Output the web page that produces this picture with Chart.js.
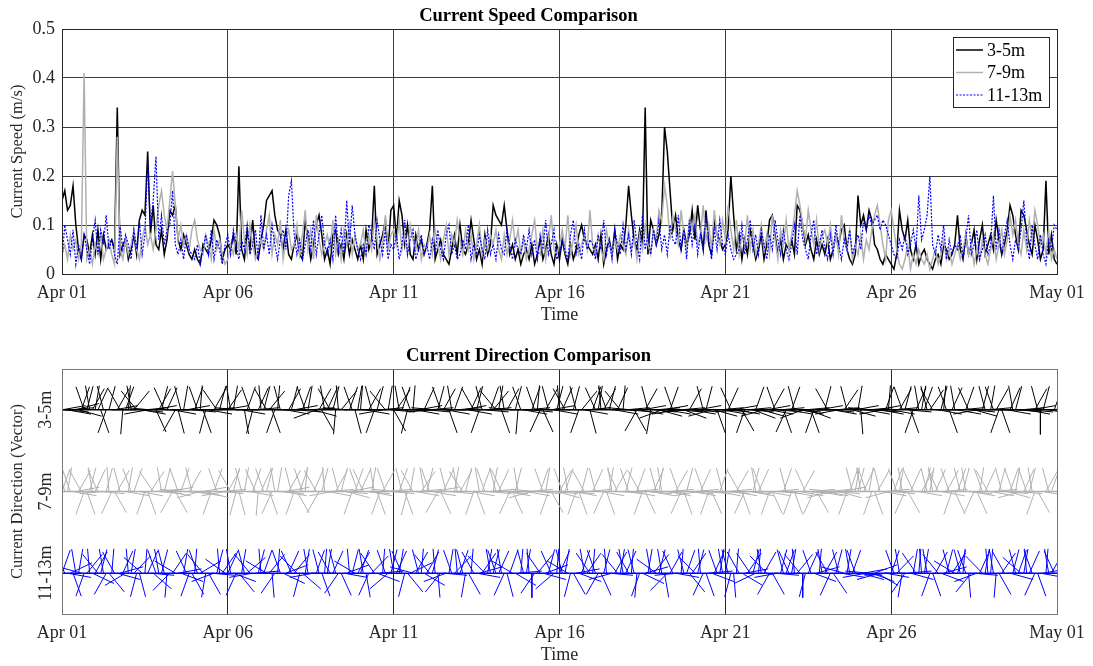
<!DOCTYPE html>
<html>
<head>
<meta charset="utf-8">
<title>Current Speed and Direction</title>
<script src="https://cdn.jsdelivr.net/npm/chart.js@4.4.1/dist/chart.umd.min.js"></script>
<style>
  html, body { margin: 0; padding: 0; background: #fff; }
  body { width: 1093px; height: 666px; position: relative; overflow: hidden; }
  .panel { position: absolute; left: 0; width: 1093px; height: 326px; }
  #speed-panel { top: 0; }
  #dir-panel { top: 340px; }
</style>
</head>
<body>
<div class="panel" id="speed-panel"><canvas id="speedChart"></canvas></div>
<div class="panel" id="dir-panel"><canvas id="dirChart"></canvas></div>
<script>
// ===== DADOS (a cada 2 h desde Apr 01 00:00) =====
const depthLabels = ['3-5m', '7-9m', '11-13m'];
const dayTicks = ['Apr 01', 'Apr 06', 'Apr 11', 'Apr 16', 'Apr 21', 'Apr 26', 'May 01'];

// velocidade em cm/s
const speed35 = [
  15,17,13,14,18,10,5,3,8,7,4,8,
  4,9,3,8,5,6,7,5,34,4,6,7,
  3,5,8,4,11,13,12,25,8,14,6,5,
  9,4,7,13,12,14,7,5,8,6,4,3,
  5,3,2,6,5,4,7,11,10,8,3,5,
  6,5,8,4,22,5,3,9,5,11,4,3,
  7,10,15,16,17,12,9,8,5,9,4,3,
  6,8,4,3,11,7,3,6,10,12,8,3,
  5,2,8,9,4,6,3,8,4,7,5,3,
  6,3,9,5,7,18,4,6,8,11,5,13,
  14,7,15,12,6,10,4,3,8,5,7,4,
  6,9,18,3,5,7,4,3,2,5,8,4,
  10,5,4,6,11,7,3,5,2,8,4,6,
  14,12,11,10,14,9,4,6,3,5,2,4,
  5,3,6,2,4,7,3,5,8,4,2,6,
  3,7,4,2,6,3,5,8,10,7,6,5,
  4,6,3,8,2,5,7,4,9,3,6,5,
  10,18,12,7,5,9,6,34,4,11,9,6,
  8,12,30,25,17,9,12,7,5,9,6,8,
  13,7,14,9,5,13,6,4,11,8,7,5,
  6,9,20,12,5,8,3,7,4,9,6,3,
  5,8,3,6,11,12,8,4,7,3,6,5,
  7,4,14,13,10,6,8,5,3,7,4,6,
  4,7,3,5,8,6,9,10,5,3,2,4,
  16,10,12,9,13,11,6,5,3,2,4,3,
  2,1,4,13,9,7,11,5,3,6,2,4,
  5,3,2,1,3,4,2,6,5,3,4,6,
  12,5,3,8,4,6,9,3,7,10,4,6,
  8,5,11,7,4,6,9,14,12,8,5,13,
  12,9,6,4,10,7,3,5,19,4,8,3,
  2
];
const speed79 = [
  4,6,3,8,5,7,3,6,41,3,5,2,
  6,4,8,3,5,7,4,2,28,5,3,7,
  4,6,9,5,3,7,10,6,8,5,9,14,
  17,12,9,15,21,14,7,10,6,8,5,9,
  11,7,5,4,8,6,3,9,5,7,4,2,
  3,6,4,8,5,13,7,4,10,6,3,5,
  7,5,9,12,4,8,6,11,3,7,9,5,
  6,10,4,8,13,5,9,3,12,7,4,6,
  8,5,11,4,7,3,9,6,10,4,8,5,
  6,9,4,8,5,11,7,3,6,12,5,8,
  9,6,11,5,8,4,10,7,5,9,3,6,
  5,8,4,9,6,3,7,10,4,8,6,11,
  7,4,9,5,8,3,6,10,4,7,5,8,
  6,9,5,3,8,4,7,11,6,9,4,7,
  3,5,8,11,5,4,9,3,7,12,5,4,
  6,9,5,12,4,7,10,4,6,8,5,13,
  6,4,8,5,3,9,6,4,7,5,8,6,
  4,9,5,7,3,8,5,10,6,4,9,7,
  13,11,18,14,7,12,9,6,13,8,5,11,
  9,12,6,8,14,7,10,5,13,8,6,11,
  7,14,9,5,11,4,8,6,12,5,9,4,
  6,10,5,8,4,12,7,3,9,6,11,5,
  8,12,17,14,10,7,13,9,6,11,5,8,
  9,6,10,5,8,4,12,7,5,9,3,6,
  4,8,3,7,5,9,12,14,10,6,3,11,
  13,9,5,2,1,3,6,1,4,2,5,3,
  2,4,1,3,5,2,4,7,3,5,2,4,
  6,3,5,8,4,6,2,5,3,7,4,2,
  5,8,3,6,9,4,7,12,8,11,6,4,
  9,5,11,7,13,10,6,8,4,9,3,5,
  3
];
const speed1113 = [
  3,10,7,4,9,2,6,3,8,5,2,7,
  11,4,9,6,12,5,7,4,2,10,5,8,
  6,3,9,5,11,4,8,23,10,15,24,7,
  12,6,9,10,17,6,4,7,3,8,5,4,
  3,6,2,5,8,4,9,3,7,5,2,6,
  8,4,9,6,3,7,5,10,4,6,9,3,
  12,5,8,4,10,6,3,7,9,5,16,19,
  8,4,7,3,6,9,5,11,4,8,12,6,
  4,7,3,12,5,9,4,15,6,14,8,5,
  3,6,4,10,8,5,11,7,4,9,3,6,
  5,8,3,6,11,4,7,9,3,5,8,4,
  6,3,7,4,9,5,3,8,10,4,6,3,
  4,7,5,10,3,6,4,8,5,3,9,4,
  6,3,8,5,4,9,6,3,7,5,4,8,
  5,9,4,7,3,8,5,11,4,6,9,3,
  4,7,5,3,8,11,4,6,3,9,5,7,
  6,3,8,5,11,4,7,3,9,6,4,10,
  5,8,4,11,6,3,12,5,8,4,9,6,
  11,5,8,4,10,7,6,12,5,9,3,11,
  6,10,4,8,5,12,7,3,9,5,11,6,
  4,8,5,3,4,5,10,4,7,11,5,8,
  4,9,6,3,8,5,11,7,4,9,5,3,
  6,10,4,12,7,5,3,8,11,4,6,9,
  5,3,8,4,10,6,3,7,5,9,4,6,
  8,5,11,9,12,10,11,12,9,11,10,8,
  6,4,3,7,5,8,4,6,9,5,16,7,
  9,12,20,6,4,8,5,10,3,7,4,6,
  5,8,3,7,12,4,6,9,3,5,8,4,
  6,16,5,9,4,8,11,6,3,7,5,9,
  15,7,3,10,6,3,8,4,2,7,5,10,
  9
];

// direção (graus a partir do norte)
const dir35 = [
  80,95,100,85,270,75,105,20,340,15,350,30,
  10,25,160,345,200,15,90,80,30,330,185,20,
  5,350,40,320,95,100,85,260,275,80,155,30,
  15,335,25,90,100,210,165,345,10,80,270,95,
  20,340,5,160,195,100,85,30,325,15,270,80,
  35,350,10,90,275,100,170,20,340,195,85,25,
  355,15,330,40,160,200,5,345,90,100,30,15,
  80,95,270,20,340,10,85,105,250,30,150,350,
  25,330,15,185,355,40,90,275,20,340,165,10,
  5,90,100,30,345,200,15,85,260,320,10,95,
  150,35,350,20,90,195,340,5,100,80,270,25,
  95,85,265,275,15,340,30,100,160,350,20,85,
  90,80,270,100,25,330,15,200,345,95,85,20,
  40,320,10,160,350,30,90,275,15,185,340,100,
  85,95,20,340,5,205,155,30,345,80,100,15,
  355,25,330,90,270,15,345,200,40,100,85,165,
  20,335,10,355,30,340,15,90,100,25,320,5,
  85,95,275,150,210,100,80,30,345,190,95,85,
  105,250,80,100,20,340,260,95,85,110,265,30,
  100,95,80,270,345,15,90,255,105,160,85,100,
  95,25,335,80,100,265,150,200,85,95,110,20,
  90,105,255,80,100,30,340,95,85,160,205,100,
  20,345,95,100,250,85,110,160,200,90,80,270,
  15,330,95,100,85,260,270,35,345,90,105,80,
  10,175,90,100,85,275,95,80,100,260,20,5,
  100,85,270,30,340,15,95,160,200,25,350,10,
  20,345,35,330,90,100,15,5,340,160,25,350,
  100,85,270,20,335,95,105,260,90,15,345,85,
  10,340,30,200,160,90,100,25,350,15,95,85,
  270,100,95,80,30,345,180,15,90,100,85,20,
  95
];
const dir79 = [
  20,345,10,340,100,80,30,330,200,160,15,350,
  25,335,95,265,15,355,205,150,30,345,90,100,
  10,340,20,90,100,270,200,160,35,325,85,95,
  350,15,100,80,210,150,340,20,275,95,30,345,
  90,100,255,80,105,270,200,20,340,95,85,260,
  30,330,15,195,165,345,10,90,100,20,335,185,
  25,340,15,160,205,350,10,95,100,80,30,345,
  200,150,20,340,5,90,270,25,330,210,15,355,
  100,85,260,30,345,15,95,105,80,200,20,340,
  25,335,95,100,10,350,160,200,30,340,85,95,
  90,275,20,345,160,195,10,330,100,85,35,350,
  15,340,100,80,210,155,25,345,95,270,10,350,
  30,325,15,90,100,200,160,350,20,340,95,85,
  10,345,25,335,95,100,205,155,15,350,90,270,
  100,85,255,275,95,20,340,10,200,150,95,105,
  30,340,20,350,95,100,200,160,15,330,85,90,
  25,345,90,100,205,160,10,350,30,335,95,270,
  15,340,100,85,20,330,200,155,95,100,25,345,
  10,350,95,100,85,270,30,340,205,160,15,95,
  100,85,260,25,340,95,200,155,90,100,20,345,
  95,85,270,100,30,330,160,205,95,100,15,350,
  25,340,90,100,200,155,85,95,270,20,345,100,
  200,160,90,100,30,335,95,85,205,150,100,270,
  100,85,255,275,95,105,80,265,200,20,345,10,
  15,350,25,340,10,200,160,30,345,100,85,255,
  95,20,340,10,350,205,150,25,335,90,100,30,
  15,345,10,350,25,335,100,85,30,340,200,155,
  20,345,15,350,95,100,205,155,10,340,25,330,
  100,85,270,15,345,95,105,20,340,10,95,255,
  25,340,15,350,200,150,90,100,30,345,20,85,
  100
];
const dir1113 = [
  20,335,100,65,160,350,10,285,200,40,355,115,
  30,320,15,350,210,140,5,330,105,75,25,240,
  355,10,45,195,165,310,5,25,95,130,340,350,
  15,345,185,225,35,300,80,110,10,335,200,150,
  5,340,60,320,190,150,95,250,15,355,35,305,
  25,350,110,205,140,10,345,50,320,260,85,15,
  355,20,300,40,175,215,5,340,115,70,25,335,
  40,315,195,130,10,350,90,260,20,345,160,5,
  10,330,25,345,215,155,100,70,355,15,300,30,
  20,350,170,205,45,325,110,85,5,340,230,15,
  350,25,10,335,195,140,65,285,30,345,5,120,
  30,320,15,355,175,220,95,250,10,340,45,355,
  20,345,190,150,5,330,100,75,35,315,10,350,
  15,340,25,350,205,165,20,300,120,85,5,345,
  10,355,180,215,40,325,105,70,15,335,230,5,
  25,345,10,300,195,150,80,110,20,350,35,325,
  5,340,210,155,15,355,95,255,30,320,10,350,
  25,330,5,345,185,200,115,75,10,350,40,305,
  15,350,170,225,30,335,100,265,5,345,20,140,
  35,315,15,355,205,160,85,110,25,340,10,350,
  10,345,195,175,5,330,120,80,35,325,15,245,
  5,350,30,315,210,150,95,260,15,345,20,335,
  10,355,40,320,180,195,25,340,110,75,5,350,
  30,330,205,145,15,345,100,285,10,350,20,340,
  95,105,80,260,275,110,70,120,255,90,100,265,
  20,340,45,350,190,215,85,105,10,325,5,355,
  10,350,200,160,30,320,110,75,15,345,35,300,
  20,345,5,340,175,220,95,250,25,315,10,355,
  5,350,185,150,35,330,90,105,15,345,20,310,
  10,355,25,340,205,160,100,80,5,350,30,335,
  15
];

// ===== CONFIGURAÇÃO GERAL =====
const STEP_DAYS = 2 / 24;
const FONT = "'Liberation Serif', 'Times New Roman', serif";
const AXIS_COLOR = '#262626';
const COLORS = ['#000000', '#b0b0b0', '#0000ff'];
const ROW_Y = [2.5, 1.5, 0.5];   // linha de base de cada profundidade
const STICK_DX = 0.72;           // comprimento do vetor em dias
const STICK_DY = 0.3;            // comprimento do vetor em unidades de y

Chart.defaults.font.family = FONT;
Chart.defaults.color = AXIS_COLOR;
Chart.defaults.animation = false;

const toPoints = arr => arr.map((v, i) => ({ x: i * STEP_DAYS, y: v / 100 }));

function sticks(dirs, base) {
  const pts = [];
  dirs.forEach((deg, i) => {
    const t = i * STEP_DAYS;
    const r = deg * Math.PI / 180;
    pts.push({ x: t, y: base });
    pts.push({ x: t + STICK_DX * Math.sin(r), y: base + STICK_DY * Math.cos(r) });
    pts.push({ x: t, y: null });
  });
  return pts;
}

// moldura completa em volta da área do gráfico
const frame = {
  id: 'frame',
  afterDatasetsDraw(chart, args, opts) {
    const { ctx, chartArea: a } = chart;
    ctx.save();
    ctx.strokeStyle = opts.color;
    ctx.lineWidth = 1;
    ctx.strokeRect(Math.round(a.left) + 0.5, Math.round(a.top) + 0.5,
      Math.round(a.right - a.left), Math.round(a.bottom - a.top));
    ctx.restore();
  }
};

// legenda com caixa, dentro do gráfico (canto superior direito)
const boxLegend = {
  id: 'boxLegend',
  afterDraw(chart) {
    const { ctx, chartArea: a } = chart;
    const w = 96, h = 70;
    const x = Math.round(a.right) - 8 - w, y = Math.round(a.top) + 8;
    ctx.save();
    ctx.fillStyle = '#fff';
    ctx.fillRect(x, y, w, h);
    ctx.strokeStyle = AXIS_COLOR;
    ctx.lineWidth = 1;
    ctx.strokeRect(x + 0.5, y + 0.5, w, h);
    ctx.font = '18px ' + FONT;
    ctx.textBaseline = 'middle';
    chart.data.datasets.forEach((ds, i) => {
      const ly = y + 13 + i * 22.5;
      ctx.beginPath();
      ctx.setLineDash(ds.borderDash || []);
      ctx.strokeStyle = ds.borderColor;
      ctx.lineWidth = ds.borderWidth;
      ctx.moveTo(x + 3, ly);
      ctx.lineTo(x + 30, ly);
      ctx.stroke();
      ctx.setLineDash([]);
      ctx.fillStyle = '#000';
      ctx.fillText(ds.label, x + 34, ly + 1);
    });
    ctx.restore();
  }
};

function timeAxis(gridColor) {
  return {
    type: 'linear', min: 0, max: 30,
    afterFit: s => { s.height = 52; },
    ticks: {
      stepSize: 5, padding: 8, maxRotation: 0, autoSkip: false,
      font: { size: 18 },
      callback: v => dayTicks[v / 5]
    },
    grid: { color: gridColor, drawTicks: false },
    border: { display: false },
    title: { display: true, text: 'Time', font: { size: 18 }, padding: { top: 0, bottom: 0 } }
  };
}

function chartTitle(text) {
  return {
    display: true, text, color: '#000',
    font: { size: 18.5, weight: 'bold' },
    padding: { top: 5, bottom: 1.8 }
  };
}

// ===== GRÁFICO VELOCIDADE =====
new Chart(document.getElementById('speedChart'), {
  type: 'line',
  data: {
    datasets: [
      { label: depthLabels[0], data: toPoints(speed35), borderColor: COLORS[0], borderWidth: 1.5, order: 3 },
      { label: depthLabels[1], data: toPoints(speed79), borderColor: COLORS[1], borderWidth: 1.5, order: 2 },
      { label: depthLabels[2], data: toPoints(speed1113), borderColor: COLORS[2], borderWidth: 1.2, borderDash: [2, 1.5], order: 1 }
    ]
  },
  options: {
    responsive: true,
    maintainAspectRatio: false,
    layout: { padding: { left: 0, right: 36, top: 0, bottom: 0 } },
    elements: { point: { radius: 0 }, line: { tension: 0 } },
    scales: {
      x: timeAxis('#3c3c3c'),
      y: {
        min: 0, max: 0.5,
        afterFit: s => { s.width = 62; },
        ticks: { stepSize: 0.1, padding: 7, font: { size: 18 } },
        grid: { color: '#3c3c3c', drawTicks: false },
        border: { display: false },
        title: { display: true, text: 'Current Speed (m/s)', font: { size: 16.5 }, padding: { top: 8, bottom: 0 } }
      }
    },
    plugins: {
      legend: { display: false },
      tooltip: { enabled: false },
      title: chartTitle('Current Speed Comparison'),
      frame: { color: AXIS_COLOR }
    }
  },
  plugins: [frame, boxLegend]
});

// ===== GRÁFICO DIREÇÃO (VETORES) =====
const dirSeries = [dir35, dir79, dir1113];
const dirDatasets = [];
dirSeries.forEach((dirs, i) => {
  dirDatasets.push({ label: depthLabels[i], data: sticks(dirs, ROW_Y[i]), borderColor: COLORS[i], borderWidth: 1 });
  dirDatasets.push({ label: depthLabels[i] + ' base', data: [{ x: 0, y: ROW_Y[i] }, { x: 30, y: ROW_Y[i] }], borderColor: COLORS[i], borderWidth: 1.5 });
});

new Chart(document.getElementById('dirChart'), {
  type: 'line',
  data: { datasets: dirDatasets },
  options: {
    responsive: true,
    maintainAspectRatio: false,
    layout: { padding: { left: 0, right: 36, top: 0, bottom: 0 } },
    elements: { point: { radius: 0 }, line: { tension: 0 } },
    spanGaps: false,
    scales: {
      x: timeAxis('#2a2a2a'),
      y: {
        min: 0, max: 3,
        afterFit: s => { s.width = 62; },
        afterBuildTicks: s => { s.ticks = ROW_Y.map(v => ({ value: v })); },
        ticks: {
          minRotation: 90, maxRotation: 90, crossAlign: 'center', padding: -12,
          font: { size: 18 },
          callback: v => depthLabels[ROW_Y.indexOf(v)]
        },
        grid: { display: false, drawTicks: false },
        border: { display: false },
        title: { display: true, text: 'Current Direction (Vector)', font: { size: 16.5 }, padding: { top: 8, bottom: 0 } }
      }
    },
    plugins: {
      legend: { display: false },
      tooltip: { enabled: false },
      title: chartTitle('Current Direction Comparison'),
      frame: { color: '#777' }
    }
  },
  plugins: [frame]
});
</script>
</body>
</html>
